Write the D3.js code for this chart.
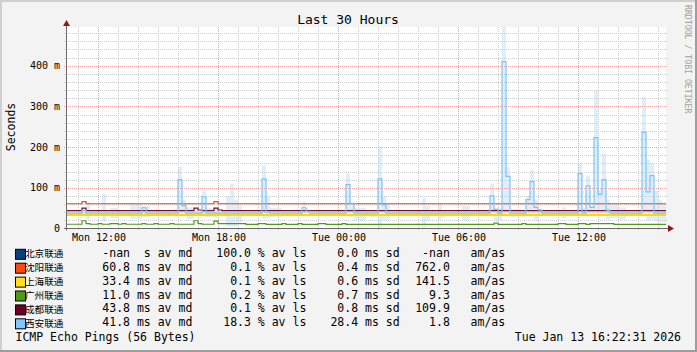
<!DOCTYPE html>
<html><head><meta charset="utf-8">
<script src="https://cdn.jsdelivr.net/npm/d3@7"></script>
<style>body{margin:0;background:#f3f3f3} svg{display:block} text{white-space:pre}</style>
</head><body><svg id="c" width="697" height="352"></svg>
<script>
// ---------- data ----------
const hosts = ["北京联通","沈阳联通","上海联通","广州联通","成都联通","西安联通"];
const legendColors = ["#0b3f7c","#ff4a12","#ffe01a","#4c9a18","#6a0022","#80c8ff"];
const lineColors = ["#0b3f7c","#ea4a1e","#f7dc00","#4f9a1a","#7a0a2a","#7ec3f5"];
const medAvg = ["-nan","60.8","33.4","11.0","43.8","41.8"];
const medPrefix = [" ","m","m","m","m","m"];
const lossAvg = ["100.0","0.1","0.1","0.2","0.1","18.3"];
const sdAvg = ["0.0","0.4","0.6","0.7","0.8","28.4"];
const amAs = ["-nan","762.0","141.5","9.3","109.9","1.8"];
const yTicks = [0,100,200,300,400];
const yTickLabels = ["0","100 m","200 m","300 m","400 m"];
const xTickLabels = ["Mon 12:00","Mon 18:00","Tue 00:00","Tue 06:00","Tue 12:00"];

// 150 bins of 12 minutes (values in ms)
const beijing = []; // all -nan (100% loss)
const shenyang = [
60.8,60.8,60.8,60.8,66,60.8,60.8,60.8,60.8,60.8,
60.8,60.8,60.8,60.8,60.8,60.8,60.8,60.8,60.8,60.8,
60.8,60.8,60.8,60.8,60.8,60.8,60.8,60.8,60.8,60.8,
60.8,60.8,60.8,60.8,60.8,60.8,60.8,66,60.8,60.8,
60.8,60.8,60.8,60.8,60.8,60.8,60.8,60.8,60.8,60.8,
60.8,60.8,60.8,60.8,60.8,60.8,60.8,60.8,60.8,60.8,
60.8,60.8,60.8,60.8,60.8,60.8,60.8,60.8,60.8,60.8,
60.8,60.8,60.8,60.8,60.8,60.8,60.8,60.8,60.8,60.8,
60.8,60.8,60.8,60.8,60.8,60.8,60.8,60.8,60.8,60.8,
60.8,60.8,60.8,60.8,60.8,60.8,60.8,60.8,60.8,60.8,
60.8,60.8,60.8,60.8,60.8,60.8,60.8,60.8,60.8,60.8,
60.8,60.8,60.8,60.8,60.8,60.8,60.8,60.8,60.8,60.8,
60.8,60.8,60.8,60.8,60.8,60.8,60.8,60.8,60.8,60.8,
60.8,60.8,60.8,60.8,60.8,60.8,60.8,60.8,60.8,60.8,
60.8,60.8,60.8,60.8,60.8,60.8,60.8,60.8,60.8,60.8];
const shanghai = [
33.4,33.4,33.4,33.4,33.4,33.4,33.4,33.4,33.4,33.4,
33.4,33.4,33.4,33.4,33.4,33.4,33.4,33.4,33.4,33.4,
33.4,33.4,33.4,33.4,33.4,33.4,33.4,33.4,33.4,33.4,
33.4,33.4,33.4,33.4,33.4,33.4,33.4,33.4,33.4,33.4,
33.4,33.4,33.4,33.4,33.4,33.4,33.4,33.4,33.4,33.4,
33.4,33.4,33.4,33.4,33.4,33.4,33.4,33.4,33.4,33.4,
33.4,33.4,33.4,33.4,33.4,33.4,33.4,33.4,33.4,33.4,
33.4,33.4,33.4,33.4,33.4,33.4,33.4,33.4,33.4,33.4,
33.4,33.4,33.4,33.4,33.4,33.4,33.4,33.4,33.4,33.4,
33.4,33.4,33.4,33.4,33.4,33.4,33.4,33.4,33.4,33.4,
33.4,33.4,33.4,33.4,33.4,33.4,33.4,33.4,33.4,33.4,
33.4,33.4,33.4,33.4,33.4,33.4,33.4,33.4,33.4,33.4,
33.4,33.4,33.4,33.4,33.4,33.4,33.4,33.4,33.4,33.4,
33.4,33.4,33.4,33.4,33.4,33.4,33.4,33.4,33.4,33.4,
33.4,33.4,33.4,33.4,33.4,33.4,33.4,33.4,33.4,33.4];
const guangzhou = [
10.5,10.5,10.5,10.5,19,12,10.5,10.5,12,10.5,
10.5,12,12,10.5,12,10.5,10.5,10.5,10.5,12,
10.5,10.5,12,10.5,10.5,10.5,12,10.5,10.5,10.5,
10.5,10.5,19,12,10.5,10.5,10.5,18,12,12,
12,12,12,12,12,10,10,10,12,12,
10,10,10,10,12,10,10,10,12,10,
10,10,10,12,12,10,10,10,10,12,
10,10,10,10,10,10,10,10,10,10,
10,10,10,10,10,10,10,10,10,10,
10,10,10,10,10,10,10,10,10,10,
10,10,10,10,10,10,10,13,10,10,
10,10,10,10,12,10,10,10,10,10,
10,10,10,12,12,10,10,10,12,12,
10,12,12,12,12,12,12,10,10,10,
10,10,10,10,10,10,10,10,10,10];
const chengdu = [
43.8,43.8,43.8,43.8,50,43.8,43.8,43.8,43.8,43.8,
43.8,43.8,43.8,43.8,43.8,43.8,43.8,43.8,43.8,43.8,
43.8,43.8,43.8,43.8,43.8,43.8,43.8,43.8,43.8,43.8,
43.8,43.8,50,45.5,43.8,43.8,43.8,50,45.5,43.8,
43.8,43.8,43.8,43.8,43.8,43.8,43.8,43.8,43.8,43.8,
43.8,43.8,43.8,43.8,43.8,43.8,43.8,43.8,43.8,43.8,
43.8,43.8,43.8,43.8,43.8,43.8,43.8,43.8,43.8,43.8,
43.8,43.8,43.8,43.8,43.8,43.8,43.8,43.8,43.8,43.8,
43.8,43.8,43.8,43.8,43.8,43.8,43.8,43.8,43.8,43.8,
43.8,43.8,43.8,43.8,43.8,43.8,43.8,43.8,43.8,43.8,
43.8,43.8,43.8,43.8,43.8,43.8,43.8,43.8,43.8,43.8,
43.8,43.8,43.8,43.8,43.8,43.8,43.8,43.8,43.8,43.8,
43.8,43.8,43.8,43.8,43.8,43.8,43.8,43.8,43.8,43.8,
43.8,43.8,43.8,43.8,43.8,43.8,43.8,43.8,43.8,43.8,
43.8,43.8,43.8,43.8,43.8,43.8,43.8,43.8,43.8,43.8];
const xian = [
38,38,38,38,44,38,38,38,38,38,
38,38,38,38,38,38,38,38,38,51,
38,38,38,38,38,38,38,38,120,56,
38,38,38,38,78,38,38,38,38,38,
38,38,38,38,38,38,38,38,38,122,
40,38,38,38,38,38,38,38,38,51,
42,38,38,38,38,38,38,38,38,38,
108,62,38,38,38,38,38,38,122,58,
38,38,38,38,38,38,38,38,38,38,
38,38,38,38,38,38,38,38,38,38,
38,38,38,38,38,38,80,47,38,410,
128,38,38,38,38,71,115,52,46,38,
38,38,38,38,38,38,38,38,135,38,
105,52,223,84,120,45,38,38,38,38,
38,38,38,38,236,90,130,38,38,38];
const xianSmokeHi = [
44,44,44,44,48,66,44,44,44,86,
44,50,50,44,44,44,63,60,58,55,
55,44,44,44,44,44,44,48,151,70,
52,52,44,44,94,50,50,50,44,44,
80,110,70,56,44,44,44,44,44,155,
80,50,50,50,44,44,44,44,44,66,
48,44,44,44,44,44,44,44,44,44,
135,60,50,50,50,44,45,45,200,80,
60,42,42,42,44,44,44,44,44,75,
55,44,44,62,45,44,44,44,44,56,
56,44,44,44,44,44,110,50,50,495,
150,48,48,45,45,80,144,70,44,44,
44,44,44,44,52,44,44,44,161,50,
130,55,340,95,185,70,58,58,52,52,
44,44,44,44,323,168,160,94,70,60];
const xianSmokeLo = [
32,32,32,32,30,22,32,32,32,18,
32,26,26,32,32,32,24,24,24,28,
28,32,32,32,32,32,32,28,30,30,
24,24,32,32,30,28,28,28,32,32,
5,5,5,15,32,32,32,32,32,25,
25,28,28,28,32,32,32,32,32,30,
30,32,32,32,32,32,32,32,32,32,
30,28,20,20,20,32,28,28,2,20,
20,30,30,30,32,32,32,32,32,2,
20,32,32,22,28,32,32,32,32,20,
20,32,32,32,32,32,30,20,20,30,
30,28,28,28,28,30,30,20,32,32,
32,32,32,32,25,32,32,32,30,30,
30,30,30,30,30,22,25,25,22,22,
32,32,32,32,30,20,22,18,15,15];
const series = [beijing, shenyang, shanghai, guangzhou, chengdu, xian];

// ---------- drawing ----------
const W = 697, H = 352;
const MONO = "'DejaVu Sans Mono', monospace";
const CJK = "'Noto Sans CJK SC', 'DejaVu Sans', sans-serif";
const svg = d3.select("#c");

svg.append("rect").attr("width", W).attr("height", H).attr("fill", "#f3f3f3");
svg.append("rect").attr("x", 0).attr("y", 0).attr("width", W).attr("height", 2).attr("fill", "#cfcfcf");
svg.append("rect").attr("x", 0).attr("y", 0).attr("width", 2).attr("height", H).attr("fill", "#cfcfcf");
svg.append("rect").attr("x", 0).attr("y", H - 2).attr("width", W).attr("height", 2).attr("fill", "#9e9e9e");
svg.append("rect").attr("x", W - 2).attr("y", 0).attr("width", 2).attr("height", H).attr("fill", "#9e9e9e");

const X0 = 66, X1 = 666, YT = 27, YB = 228.5;
const start = new Date(2026, 0, 12, 10, 22, 31);
const end = new Date(2026, 0, 13, 16, 22, 31);
const STEP = 12 * 60 * 1000;
const x = d3.scaleTime().domain([start, end]).range([X0, X1]);
const y = d3.scaleLinear().domain([0, 495]).range([YB, YT]);
const times = d3.range(150).map(i => new Date(start.getTime() + i * STEP));

svg.append("rect").attr("x", X0).attr("y", YT).attr("width", X1 - X0).attr("height", YB - YT).attr("fill", "#ffffff");

// smoke
svg.append("g").selectAll("rect").data(times).join("rect")
  .attr("x", (t) => x(t))
  .attr("width", (t) => x(new Date(t.getTime() + STEP)) - x(t))
  .attr("y", (t, i) => y(Math.min(xianSmokeHi[i], 495)))
  .attr("height", (t, i) => y(xianSmokeLo[i]) - y(Math.min(xianSmokeHi[i], 495)))
  .attr("fill", "#ddeffc");

// grid
const grid = svg.append("g").attr("stroke-dasharray", "1,1").attr("stroke-width", 1);
const minorY = d3.range(20, 495, 20).filter(v => v % 100 !== 0);
grid.selectAll("line.hy").data(minorY).join("line")
  .attr("x1", X0 - 2).attr("x2", X1 + 2)
  .attr("y1", d => Math.round(y(d)) + 0.5).attr("y2", d => Math.round(y(d)) + 0.5)
  .attr("stroke", "#cdcdcd");
const hours = d3.timeHour.range(start, end);
grid.selectAll("line.vx").data(hours.filter(h => h.getHours() % 6 !== 0)).join("line")
  .attr("x1", d => Math.round(x(d)) + 0.5).attr("x2", d => Math.round(x(d)) + 0.5)
  .attr("y1", YT).attr("y2", YB + 2)
  .attr("stroke", "#cdcdcd");
grid.selectAll("line.my").data(yTicks.filter(v => v > 0)).join("line")
  .attr("x1", X0 - 2).attr("x2", X1 + 2)
  .attr("y1", d => Math.round(y(d)) + 0.5).attr("y2", d => Math.round(y(d)) + 0.5)
  .attr("stroke", "#f2a0a0");
const majorHours = hours.filter(h => h.getHours() % 6 === 0);
grid.selectAll("line.mx").data(majorHours).join("line")
  .attr("x1", d => Math.round(x(d)) + 0.5).attr("x2", d => Math.round(x(d)) + 0.5)
  .attr("y1", YT).attr("y2", YB + 2)
  .attr("stroke", "#f2a0a0");

// lines
const line = d3.line().x(d => x(d.t)).y(d => y(d.v)).curve(d3.curveStepAfter);
series.forEach((vals, k) => {
  if (!vals.length) return;
  const pts = vals.map((v, i) => ({t: times[i], v}));
  pts.push({t: end, v: vals[vals.length - 1]});
  svg.append("path").attr("d", line(pts)).attr("fill", "none")
    .attr("stroke", lineColors[k]).attr("stroke-width", k === 2 ? 2 : 1.2);
});

// axes lines + arrows
svg.append("line").attr("x1", X0 - 2).attr("x2", X1 + 4).attr("y1", YB).attr("y2", YB)
  .attr("stroke", "#6a6a6a").attr("stroke-width", 1);
svg.append("line").attr("x1", X0 + 0.5).attr("x2", X0 + 0.5).attr("y1", YB + 2).attr("y2", YT - 3)
  .attr("stroke", "#6a6a6a").attr("stroke-width", 1);
svg.append("path").attr("d", `M${X1+2},${YB-3.5} L${X1+8},${YB} L${X1+2},${YB+3.5} Z`).attr("fill", "#8b1a1a");
svg.append("path").attr("d", `M${X0-3},${YT-1} L${X0+0.5},${YT-7} L${X0+4},${YT-1} Z`).attr("fill", "#8b1a1a");

// axis labels via d3 axes
const yAxis = d3.axisLeft(y).tickValues(yTicks).tickSize(0).tickPadding(0)
  .tickFormat((d, i) => yTickLabels[i]);
const gy = svg.append("g").attr("transform", "translate(60,0)").call(yAxis);
gy.select(".domain").remove();
gy.selectAll("text").attr("font-family", MONO).attr("font-size", 10).attr("fill", "#000")
  .attr("x", 0).attr("dy", "0.3em");

const xAxis = d3.axisBottom(x).tickValues(majorHours).tickSize(0).tickPadding(0)
  .tickFormat((d, i) => xTickLabels[i]);
const gx = svg.append("g").attr("transform", "translate(0,241)").call(xAxis);
gx.select(".domain").remove();
gx.selectAll("text").attr("font-family", MONO).attr("font-size", 10).attr("fill", "#000")
  .attr("y", 0).attr("dy", null);

// title & labels
svg.append("text").attr("x", 348).attr("y", 24).attr("text-anchor", "middle")
  .attr("font-family", MONO).attr("font-size", 13).text("Last 30 Hours");
svg.append("text").attr("transform", "translate(15,127) rotate(-90)").attr("text-anchor", "middle")
  .attr("font-family", MONO).attr("font-size", 11.5).text("Seconds");
svg.append("text").attr("transform", "translate(684.5,5) rotate(90)")
  .attr("font-family", MONO).attr("font-size", 8.2).attr("fill", "#a0a0a0")
  .text("RRDTOOL / TOBI OETIKER");

// legend
hosts.forEach((h, k) => {
  const by = 256.8 + k * 13.9;
  svg.append("text").attr("x", 25).attr("y", by + 0.5).attr("font-family", CJK)
    .attr("font-size", 9.6).text(h);
  svg.append("rect").attr("x", 15.5).attr("y", by - 7.5).attr("width", 10).attr("height", 10)
    .attr("fill", legendColors[k]).attr("stroke", "#000").attr("stroke-width", 1);
  const segs = [
    [102.3, medAvg[k].padStart(4) + " " + medPrefix[k] + "s av md"],
    [216.3, lossAvg[k].padStart(5) + " % av ls"],
    [323.5, sdAvg[k].padStart(5) + " ms sd"],
    [415.2, amAs[k].padStart(5) + "   am/as"]
  ];
  segs.forEach(([sx, s]) => {
    svg.append("text").attr("x", sx).attr("y", by).attr("font-family", MONO)
      .attr("font-size", 11.5).attr("xml:space", "preserve").text(s);
  });
});
svg.append("text").attr("x", 15.5).attr("y", 341).attr("font-family", MONO)
  .attr("font-size", 11.5).text("ICMP Echo Pings (56 Bytes)");
svg.append("text").attr("x", 681).attr("y", 341).attr("text-anchor", "end").attr("font-family", MONO)
  .attr("font-size", 11.5).text("Tue Jan 13 16:22:31 2026");
</script></body></html>
